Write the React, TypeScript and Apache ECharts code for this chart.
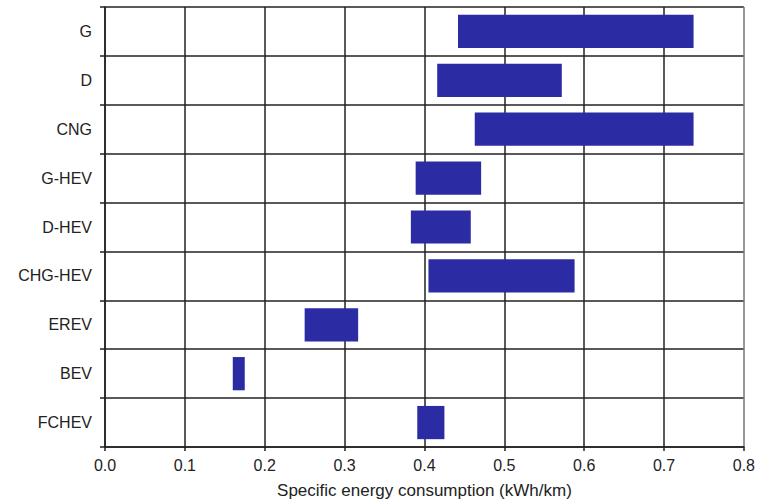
import React, { useEffect, useRef } from "react";
import * as echarts from "echarts";

const categories = ["G", "D", "CNG", "G-HEV", "D-HEV", "CHG-HEV", "EREV", "BEV", "FCHEV"];
const rangeMin = [0.442, 0.416, 0.463, 0.389, 0.383, 0.405, 0.25, 0.16, 0.391];
const rangeMax = [0.737, 0.572, 0.737, 0.471, 0.458, 0.588, 0.317, 0.175, 0.425];
const xTicks = [0, 0.1, 0.2, 0.3, 0.4, 0.5, 0.6, 0.7, 0.8];

export default function App() {
  const ref = useRef<HTMLDivElement>(null);
  useEffect(() => {
    if (!ref.current) return;
    const chart = echarts.init(ref.current, undefined, { renderer: "svg" });
    const font = "Liberation Sans, Arial, sans-serif";
    chart.setOption({
      animation: false,
      backgroundColor: "#ffffff",
      grid: { left: 105, right: 12, top: 7, bottom: 55, containLabel: false },
      xAxis: {
        type: "value",
        min: xTicks[0],
        max: xTicks[xTicks.length - 1],
        interval: 0.1,
        name: "Specific energy consumption (kWh/km)",
        nameLocation: "middle",
        nameGap: 35,
        nameTextStyle: { color: "#222", fontSize: 17, fontFamily: font },
        axisLine: { show: true, lineStyle: { color: "#222", width: 1.5 } },
        axisTick: { show: true, length: 4, lineStyle: { color: "#222", width: 1.5 } },
        axisLabel: {
          color: "#222",
          fontSize: 16,
          fontFamily: font,
          margin: 10,
          formatter: (v: number) => v.toFixed(1),
        },
        splitLine: {
          show: true,
          lineStyle: {
            color: ["#222", "#222", "#222", "#222", "#222", "#222", "#222", "#222", "#777"],
            width: 1.5,
          },
        },
      },
      yAxis: {
        type: "category",
        data: categories,
        inverse: true,
        axisLine: { show: true, lineStyle: { color: "#222", width: 1.5 } },
        axisTick: { show: true, length: 5, lineStyle: { color: "#222", width: 1.5 } },
        axisLabel: { color: "#222", fontSize: 16, fontFamily: font, margin: 13 },
        splitLine: { show: true, lineStyle: { color: "#222", width: 1.5 } },
      },
      series: [
        {
          type: "bar",
          stack: "r",
          data: rangeMin,
          itemStyle: { color: "transparent" },
          barWidth: "68%",
          silent: true,
        },
        {
          type: "bar",
          stack: "r",
          data: rangeMax.map((v, i) => +(v - rangeMin[i]).toFixed(3)),
          itemStyle: { color: "#2b2ba3" },
          barWidth: "68%",
        },
      ],
    });
    return () => chart.dispose();
  }, []);
  return (
    <div
      ref={ref}
      style={{ position: "absolute", left: 0, top: 0, width: 758, height: 504 }}
    />
  );
}
